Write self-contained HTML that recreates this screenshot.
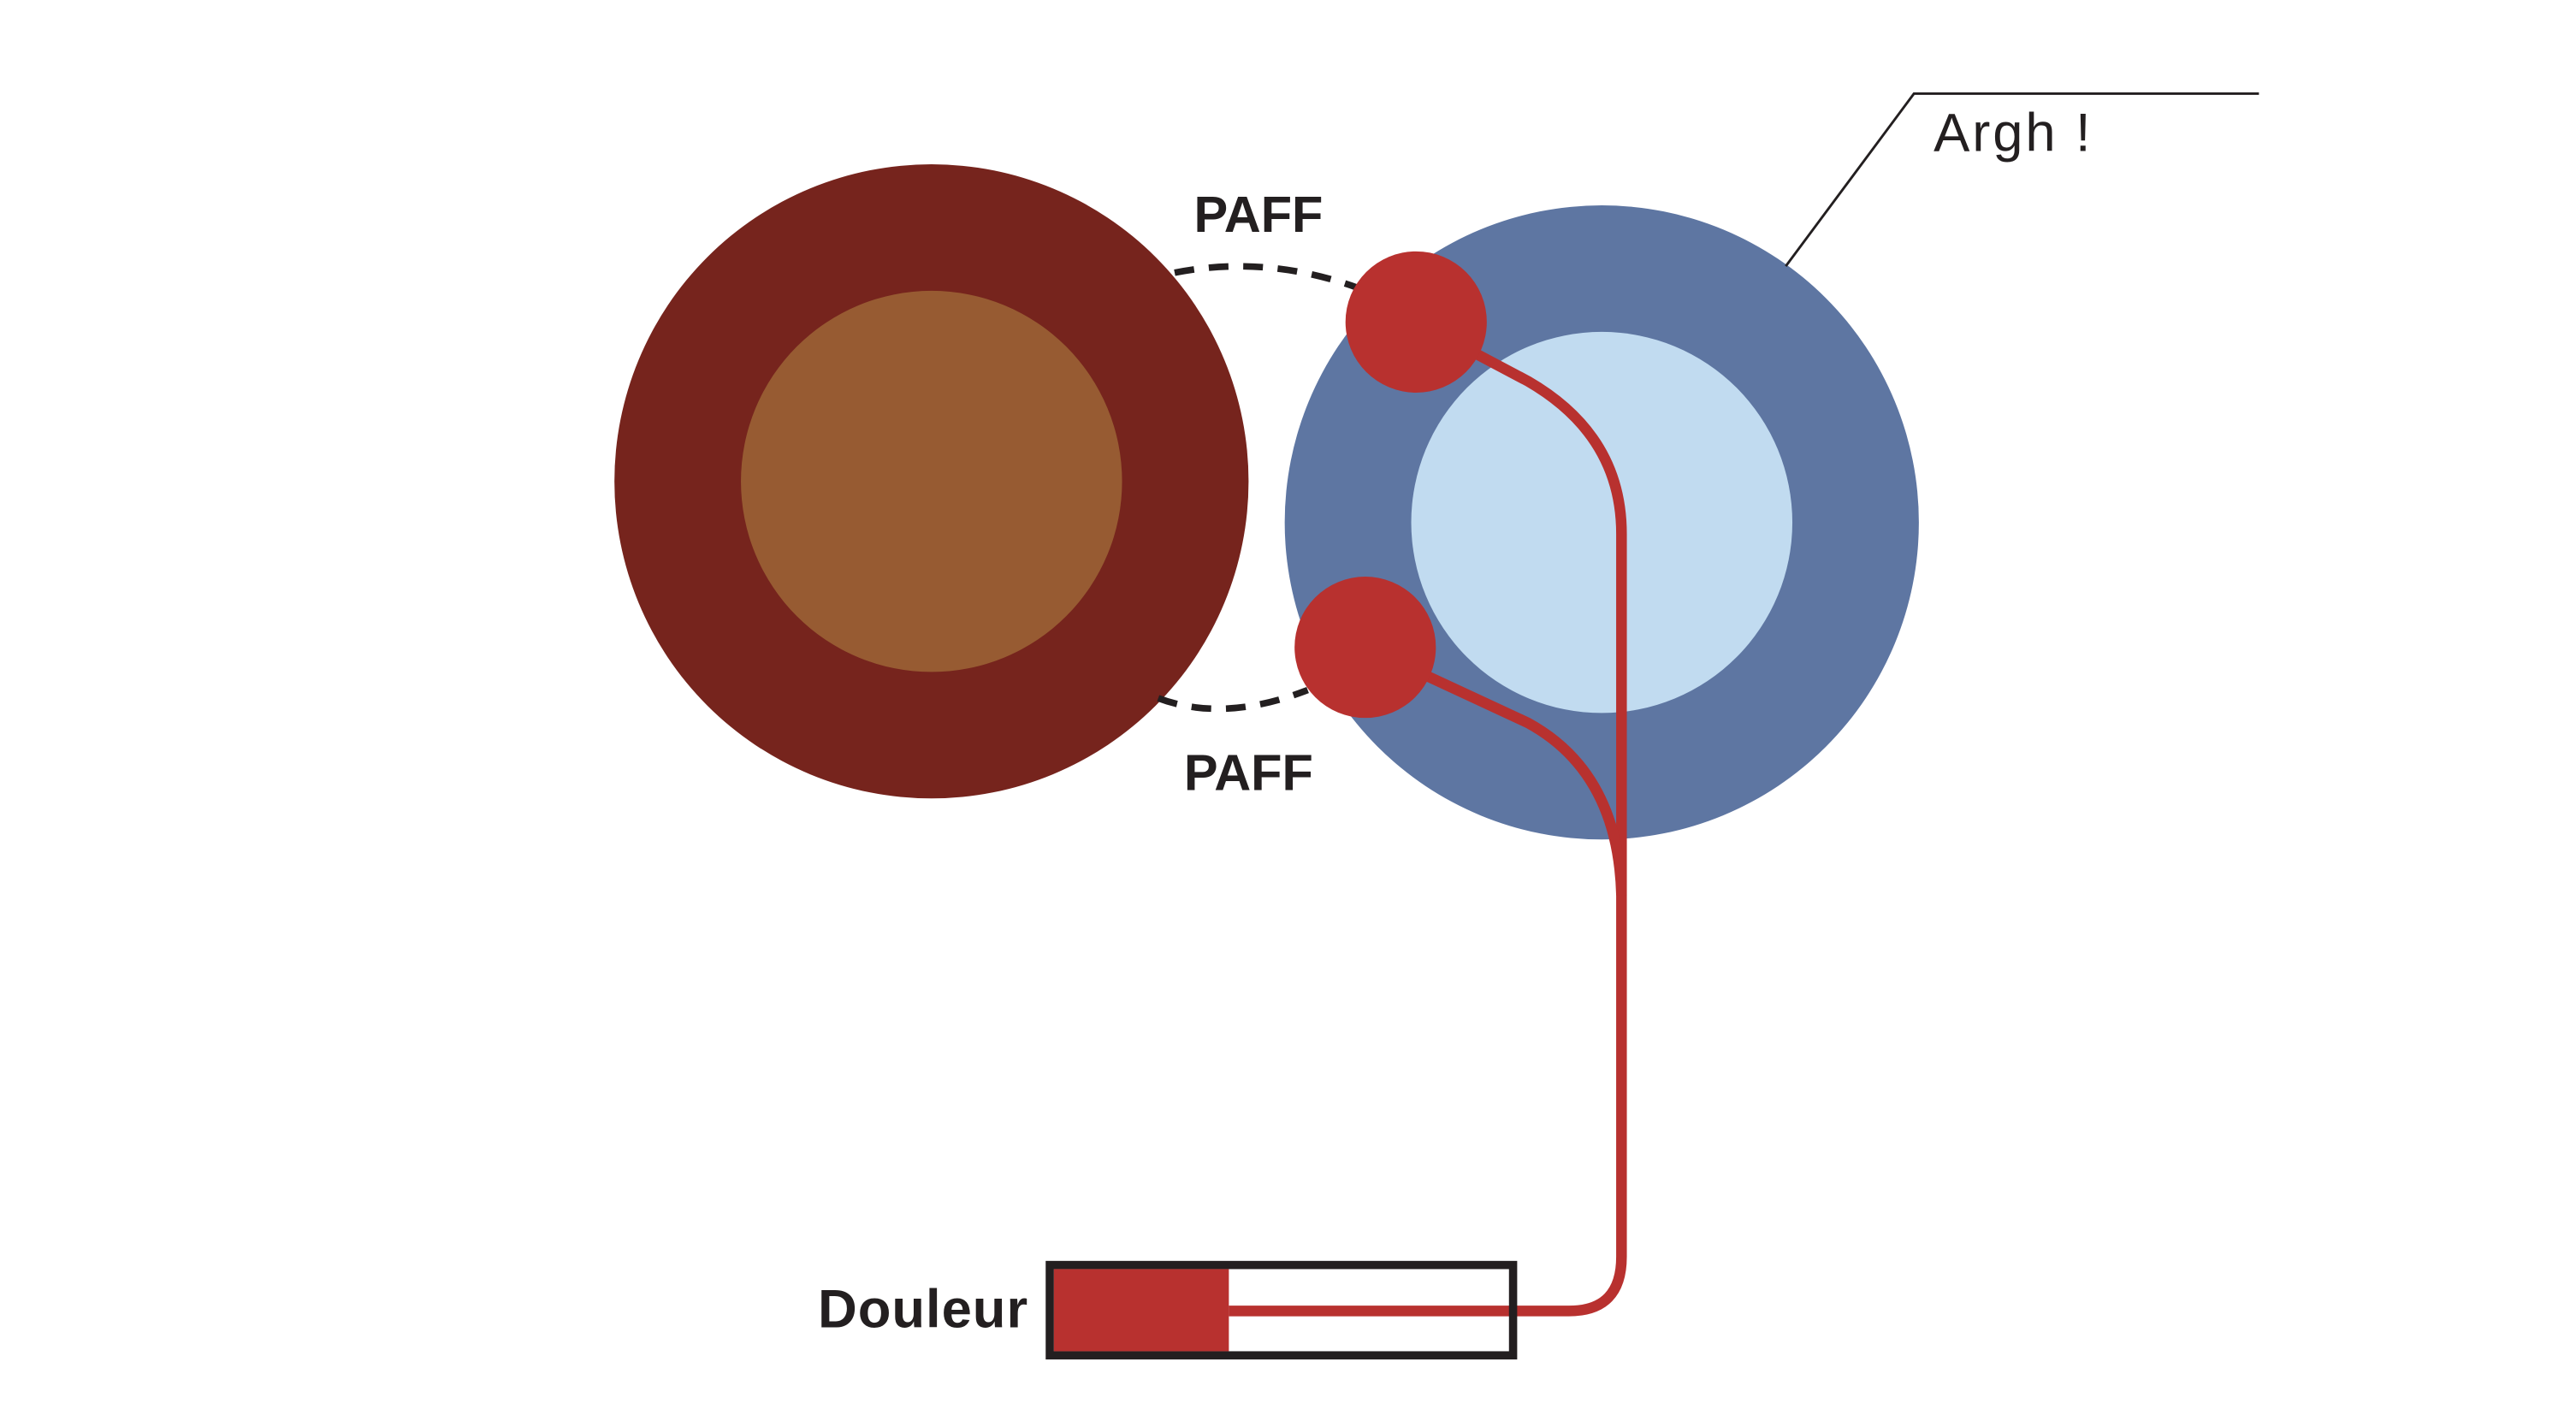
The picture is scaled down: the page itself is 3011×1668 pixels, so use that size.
<!DOCTYPE html>
<html><head><meta charset="utf-8"><style>html,body{margin:0;padding:0;background:#fff}svg{display:block}</style></head>
<body>
<svg width="3011" height="1668" viewBox="0 0 1568 868.6" xmlns="http://www.w3.org/2000/svg">
<rect width="1568" height="868.6" fill="#fff"/>
<circle cx="567" cy="293" r="193" fill="#76241d"/>
<circle cx="567" cy="293" r="116" fill="#975b32"/>
<circle cx="975" cy="318" r="193" fill="#5e76a2"/>
<circle cx="975" cy="318" r="116" fill="#c1dbf0"/>
<path d="M715,166 Q770,155 826,175" fill="none" stroke="#231f20" stroke-width="4" stroke-dasharray="12,9"/>
<path d="M705,425 Q745,440 796,420" fill="none" stroke="#231f20" stroke-width="4" stroke-dasharray="12,9"/>
<path d="M862,196 L930,232 Q987,265 987,325 L987,765 Q987,798 955,798 L748,798" fill="none" stroke="#b8312f" stroke-width="6.5"/>
<path d="M831,394 L930,440 Q985,470 987,545" fill="none" stroke="#b8312f" stroke-width="6.5"/>
<circle cx="862" cy="196" r="43" fill="#b8312f"/>
<circle cx="831" cy="394" r="43" fill="#b8312f"/>
<rect x="639" y="770" width="282" height="55" fill="none" stroke="#231f20" stroke-width="5"/>
<rect x="641.5" y="772.5" width="106.5" height="50" fill="#b8312f"/>
<polyline points="1087,162 1165,57 1375,57" fill="none" stroke="#231f20" stroke-width="1.5"/>
<g font-family="Liberation Sans, sans-serif" fill="#231f20">
<text x="766" y="141" font-size="31" font-weight="bold" text-anchor="middle">PAFF</text>
<text x="760" y="481" font-size="31" font-weight="bold" text-anchor="middle">PAFF</text>
<text x="1177" y="92" font-size="33" letter-spacing="1.5">Argh !</text>
<text x="626" y="808" font-size="33" font-weight="bold" text-anchor="end" letter-spacing="0.5">Douleur</text>
</g>
</svg>
</body></html>
